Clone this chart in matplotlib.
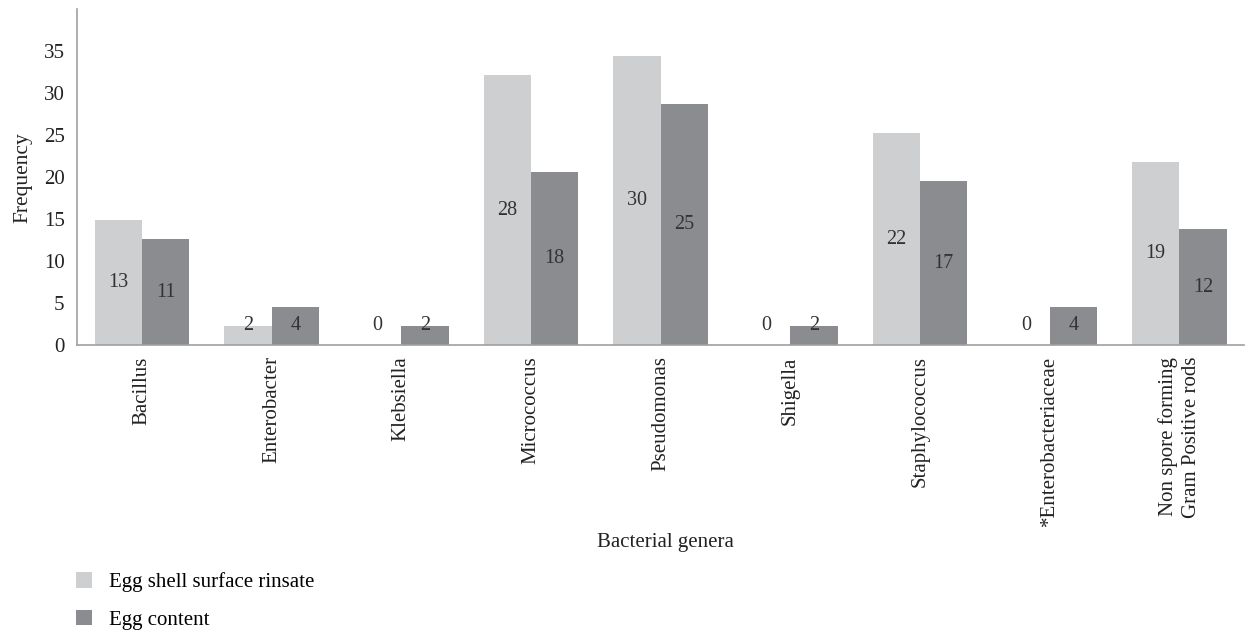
import matplotlib.pyplot as plt
import numpy as np

plt.rcParams["font.family"] = ["Liberation Serif", "DejaVu Serif"]

genera = ["Bacillus", "Enterobacter", "Klebsiella", "Micrococcus", "Pseudomonas",
          "Shigella", "Staphylococcus", "*Enterobacteriaceae",
          "Non spore forming\nGram Positive rods"]
shell_counts = [13, 2, 0, 28, 30, 0, 22, 0, 19]
content_counts = [11, 4, 2, 18, 25, 2, 17, 4, 12]
n_isolates = 87

# bars show share of isolates (%), labels show raw counts
shell_pct = np.array(shell_counts) / n_isolates * 100
content_pct = np.array(content_counts) / n_isolates * 100

light = "#cdcfd1"
dark = "#8b8c90"
txt = "#222222"

fig = plt.figure(figsize=(12.55, 6.31), dpi=100)
ax = fig.add_axes([0.0614, 0.453, 0.93, 0.532])

x = np.arange(len(genera))
w = 0.365
b1 = ax.bar(x - w / 2, shell_pct, w, color=light, label="Egg shell surface rinsate")
b2 = ax.bar(x + w / 2, content_pct, w, color=dark, label="Egg content")

for xs, hs, cs in [(x - w / 2, shell_pct, shell_counts), (x + w / 2, content_pct, content_counts)]:
    for xi, h, c in zip(xs, hs, cs):
        ax.text(xi, max(h / 2, 2.4), str(c), ha="center", va="center",
                fontsize=14.5, color="#333333")

ax.set_xlim(-0.5, len(genera) - 0.5)
ax.set_ylim(0, 40)
ax.set_yticks(range(0, 40, 5))
ax.set_xticks(x)
ax.set_xticklabels(genera, rotation=90, fontsize=15, color=txt, va="top",
                   linespacing=1.3)
ax.tick_params(axis="both", length=0, labelsize=15, colors=txt)
ax.tick_params(axis="x", pad=8)
ax.tick_params(axis="y", pad=9)

for side in ["top", "right"]:
    ax.spines[side].set_visible(False)
for side in ["left", "bottom"]:
    ax.spines[side].set_color("#a0a0a0")
    ax.spines[side].set_linewidth(1.2)

ax.set_ylabel("Frequency", fontsize=15.5, color=txt, labelpad=8)
fig.text(0.53, 0.14, "Bacterial genera", ha="center", va="center",
         fontsize=15, color=txt)

fig.legend(handles=[b1, b2], loc="upper left", bbox_to_anchor=(0.054, 0.106),
           frameon=False, fontsize=15, handlelength=0.75, handleheight=0.75,
           handletextpad=0.85, labelspacing=0.85, borderaxespad=0)

fig.savefig("out.png", dpi=100)
